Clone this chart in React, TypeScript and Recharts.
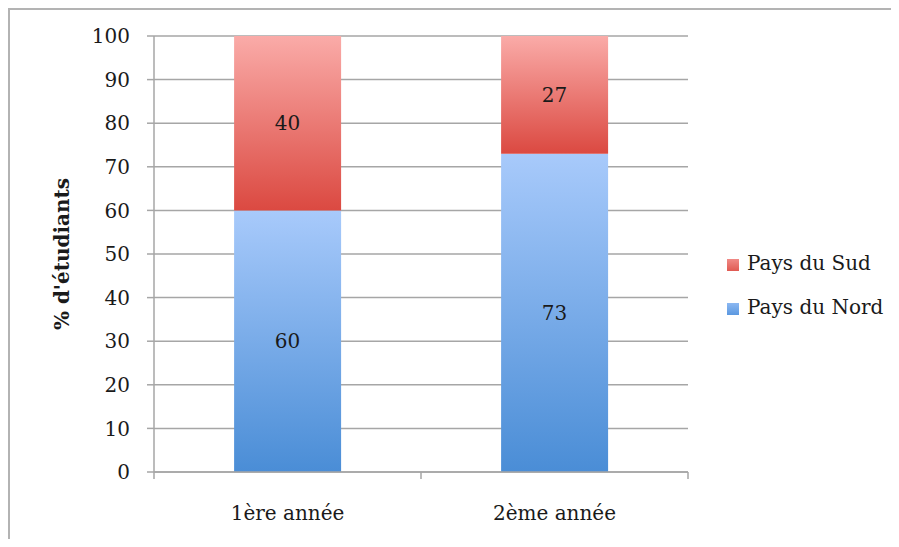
import { BarChart, Bar, XAxis, YAxis, CartesianGrid, LabelList } from 'recharts';

const categories = ['1ère année', '2ème année'];
const paysDuNord = [60, 73];
const paysDuSud = [40, 27];
const yTicks = [0, 10, 20, 30, 40, 50, 60, 70, 80, 90, 100];

const FONT = '"DejaVu Serif", serif';
const GRID = '#a6a6a6';

const chartData = categories.map((c, i) => ({
  annee: c,
  nord: paysDuNord[i],
  sud: paysDuSud[i],
}));

// plot is 534px wide, two categories
const BAND = 267;

const XTick = (props: any) => {
  const { x, y, payload, index } = props;
  return (
    <g>
      <line x1={x - BAND / 2} x2={x - BAND / 2} y1={y} y2={y + 7} stroke={GRID} strokeWidth={1.5} />
      {index === categories.length - 1 && (
        <line x1={x + BAND / 2} x2={x + BAND / 2} y1={y} y2={y + 7} stroke={GRID} strokeWidth={1.5} />
      )}
      <text x={x} y={y + 48} textAnchor="middle" fontFamily={FONT} fontSize={20} fill="#1a1a1a">
        {payload.value}
      </text>
    </g>
  );
};

const YLabel = (props: any) => {
  const { viewBox } = props;
  const cx = 54;
  const cy = viewBox.y + viewBox.height / 2;
  return (
    <text
      x={cx}
      y={cy}
      transform={`rotate(-90, ${cx}, ${cy})`}
      textAnchor="middle"
      dominantBaseline="central"
      fontFamily={FONT}
      fontSize={20}
      fontWeight="bold"
      fill="#1a1a1a"
    >
      % d'étudiants
    </text>
  );
};

const legendItems = [
  { name: 'Pays du Sud', bg: 'linear-gradient(#f08a86, #e05a52)' },
  { name: 'Pays du Nord', bg: 'linear-gradient(#8cb8f2, #5b98e0)' },
];

export default function App() {
  return (
    <div style={{ position: 'relative', width: 883, height: 531, background: '#fff', overflow: 'hidden' }}>
      {/* frame: only top and left edges are visible in the source */}
      <div
        style={{
          position: 'absolute',
          left: 0,
          top: 0,
          width: 883,
          height: 531,
          borderTop: '2.5px solid #b3b3b3',
          borderLeft: '2.5px solid #b3b3b3',
          boxSizing: 'border-box',
        }}
      />
      <BarChart
        width={883}
        height={531}
        data={chartData}
        margin={{ top: 28, right: 203, bottom: 0, left: 0 }}
        barCategoryGap="30%"
        style={{ position: 'absolute', left: 0, top: 0 }}
      >
        <defs>
          <linearGradient id="nordGrad" x1="0" y1="0" x2="0" y2="1">
            <stop offset="0%" stopColor="#a8cafb" />
            <stop offset="100%" stopColor="#4a8dd6" />
          </linearGradient>
          <linearGradient id="sudGrad" x1="0" y1="0" x2="0" y2="1">
            <stop offset="0%" stopColor="#faaba8" />
            <stop offset="100%" stopColor="#db4941" />
          </linearGradient>
        </defs>
        <CartesianGrid vertical={false} stroke={GRID} strokeWidth={1.5} />
        <XAxis
          dataKey="annee"
          height={67}
          axisLine={{ stroke: GRID, strokeWidth: 1.5 }}
          tickLine={false}
          tickSize={0}
          tickMargin={0}
          tick={<XTick />}
          interval={0}
        />
        <YAxis
          width={146}
          domain={[0, 100]}
          ticks={yTicks}
          interval={0}
          axisLine={{ stroke: GRID, strokeWidth: 1.5 }}
          tickLine={{ stroke: GRID, strokeWidth: 1.5 }}
          tickSize={7}
          tickMargin={17}
          tick={{ fontFamily: FONT, fontSize: 20, fill: '#1a1a1a' }}
          label={<YLabel />}
        />
        <Bar dataKey="nord" name="Pays du Nord" stackId="a" fill="url(#nordGrad)" isAnimationActive={false}>
          <LabelList dataKey="nord" position="center" fontFamily={FONT} fontSize={20} fill="#1a1a1a" />
        </Bar>
        <Bar dataKey="sud" name="Pays du Sud" stackId="a" fill="url(#sudGrad)" isAnimationActive={false}>
          <LabelList dataKey="sud" position="center" fontFamily={FONT} fontSize={20} fill="#1a1a1a" />
        </Bar>
      </BarChart>
      <div style={{ position: 'absolute', left: 719, top: 233 }}>
        {legendItems.map(item => (
          <div key={item.name} style={{ display: 'flex', alignItems: 'center', height: 44 }}>
            <div style={{ width: 12, height: 12, background: item.bg, marginRight: 8, marginTop: 4 }} />
            <span style={{ fontFamily: FONT, fontSize: 20, color: '#1a1a1a', whiteSpace: 'nowrap' }}>{item.name}</span>
          </div>
        ))}
      </div>
    </div>
  );
}
